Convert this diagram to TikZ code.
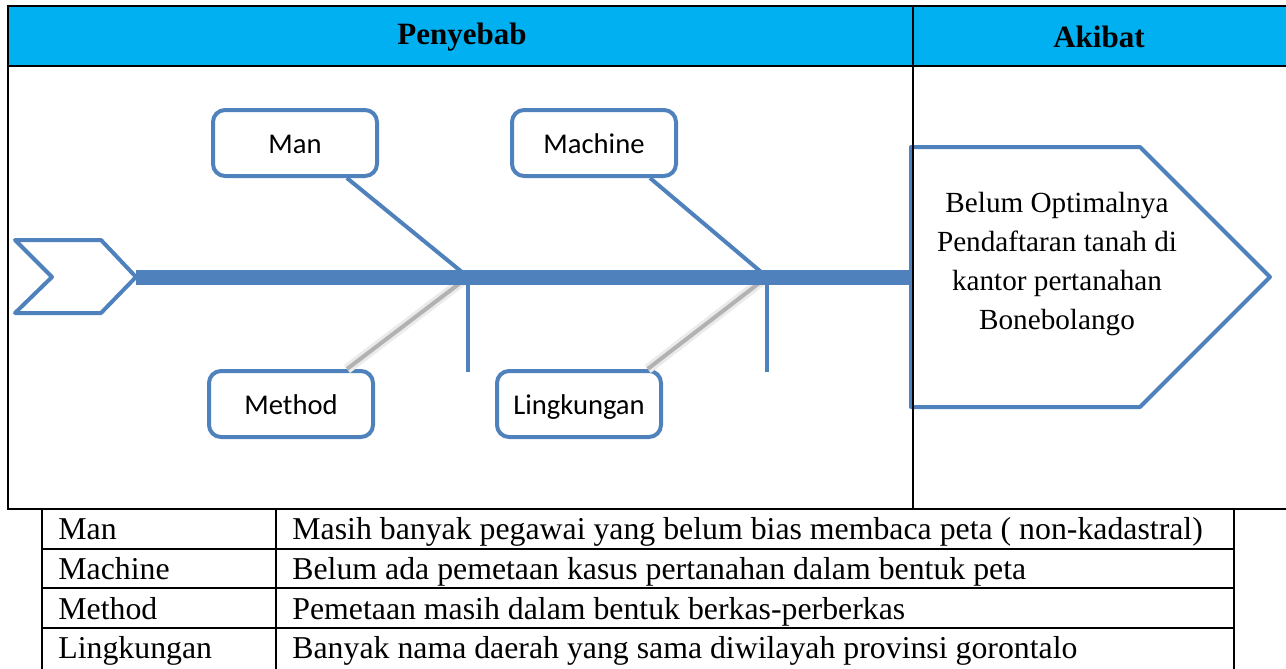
\documentclass[tikz,border=0pt]{standalone}
\usepackage{fontspec}
\setmainfont{Liberation Serif}
\newfontfamily\boxfont{Carlito}
\definecolor{fishblue}{HTML}{4F81BD}
\definecolor{headcyan}{HTML}{00B0F0}
\begin{document}
\begin{tikzpicture}[x=0.5pt,y=-0.5pt,
  causebox/.style={draw=fishblue,line width=2pt,rounded corners=6pt,fill=white,
    minimum width=82pt,minimum height=33pt,inner sep=0pt,
    text height=11pt,text depth=1pt,
    font=\boxfont\fontsize{14.3}{17}\selectfont},
  fishline/.style={draw=fishblue,line width=2pt},
  shadowline/.style={line width=2pt,black!30},
  frameline/.style={line width=1pt,black},
  cell/.style={anchor=base west,inner sep=0pt,font=\fontsize{15.9}{18}\selectfont}]
  \useasboundingbox (0,0) rectangle (1286,669);

  % header band
  \fill[headcyan] (8,6) rectangle (1292,66);
  \node (pny) at (462,37) {\fontsize{15.5}{17}\selectfont\bfseries Penyebab};
  \node (akb) at (1099,37) {\fontsize{15.5}{17}\selectfont\bfseries Akibat};

  % tail and head
  \draw[fishline,line join=round] (15,240) -- (101,240) -- (136,277) -- (101,313)
    -- (15,313) -- (52,277) -- cycle;
  \coordinate (tail) at (136,277);
  \draw[fishline,line join=round] (911,147) -- (1140,147) -- (1270,277) -- (1140,407)
    -- (911,407) -- cycle;
  \coordinate (headl) at (911,277);
  \node[align=center,font=\fontsize{14.6}{19.5}\selectfont] (head) at (1057,264)
    {Belum Optimalnya\\Pendaftaran tanah di\\kantor pertanahan\\Bonebolango};

  % causes
  \node[causebox] (man) at (295,143) {Man};
  \node[causebox] (mch) at (594,143) {Machine};
  \node[causebox] (mth) at (291,404) {Method};
  \node[causebox] (lgk) at (579,404) {Lingkungan};

  \coordinate (j1) at (468,277);
  \coordinate (j2) at (767,277);
  \coordinate (v1) at (468,372);
  \coordinate (v2) at (767,372);

  \draw[line width=5pt,black!8] (mth.32) -- (j1);
  \draw[line width=5pt,black!8] (lgk.27) -- (j2);
  \draw[shadowline] (mth.32) -- (j1);
  \draw[shadowline] (lgk.27) -- (j2);
  \draw[fishline] (man.-34) -- (j1);
  \draw[fishline] (mch.-32) -- (j2);
  \draw[fishline] (j1) -- (v1);
  \draw[fishline] (j2) -- (v2);
  \draw[fishblue,line width=7.5pt] (tail) -- (headl);

  % frame
  \draw[frameline] (1292,6) -- (8,6) -- (8,509) -- (1292,509);
  \draw[frameline] (8,66) -- (1292,66);
  \draw[frameline] (913,6) -- (913,509);

  % table
  \foreach \y in {549,588,628}
    \draw[frameline] (42,\y) -- (1234,\y);
  \foreach \x in {42,276,1234}
    \draw[frameline] (\x,509) -- (\x,672);
  \foreach \a/\b [count=\i] in {Man/Masih banyak pegawai yang belum bias membaca peta ( non-kadastral),
      Machine/Belum ada pemetaan kasus pertanahan dalam bentuk peta,
      Method/Pemetaan masih dalam bentuk berkas-perberkas,
      Lingkungan/Banyak nama daerah yang sama diwilayah provinsi gorontalo} {
    \node[cell] (k\i) at (58,{500+39.7*\i}) {\a};
    \node[cell] (d\i) at (292,{500+39.7*\i}) {\b};
  }
\end{tikzpicture}
\end{document}
